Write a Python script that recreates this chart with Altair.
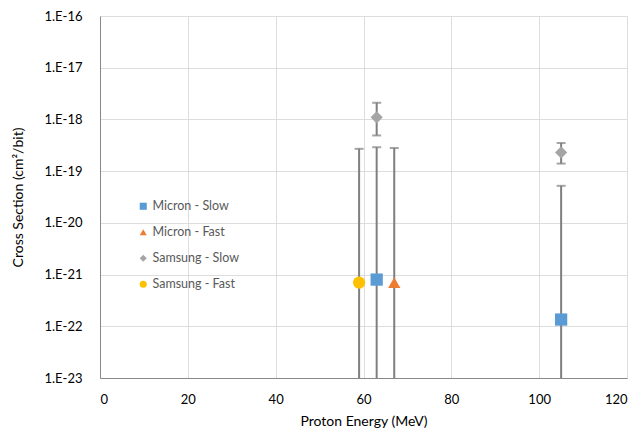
import altair as alt
import pandas as pd

series_names = ["Micron - Slow", "Micron - Fast", "Samsung - Slow", "Samsung - Fast"]
colors = ["#5b9bd5", "#ed7d31", "#a5a5a5", "#ffc000"]
shapes = ["square", "triangle-up", "diamond", "circle"]

pt_series = ["Micron - Slow", "Micron - Slow", "Micron - Fast", "Samsung - Slow", "Samsung - Slow", "Samsung - Fast"]
energy = [63, 105, 67, 63, 105, 59]
cross = [8.0e-22, 1.35e-22, 7.0e-22, 1.1e-18, 2.3e-19, 7.0e-22]
err_hi = [2.9e-19, 5.2e-20, 2.8e-19, 2.1e-18, 3.5e-19, 2.7e-19]
err_lo = [1e-24, 1e-24, 1e-24, 4.9e-19, 1.4e-19, 1e-24]

ytick_vals = [1e-16, 1e-17, 1e-18, 1e-19, 1e-20, 1e-21, 1e-22, 1e-23]
xtick_vals = [0, 20, 40, 60, 80, 100, 120]

df = pd.DataFrame({"series": pt_series, "energy": energy, "cs": cross, "hi": err_hi, "lo": err_lo})
caps = pd.DataFrame({"energy": energy + energy, "cap": err_hi + err_lo})

txt = "#595959"
font = "Lato"

xscale = alt.Scale(domain=[0, 120], nice=False)
yscale = alt.Scale(type="log", domain=[1e-23, 1e-16], nice=False)

xenc = alt.X("energy:Q", scale=xscale, title="Proton Energy (MeV)",
             axis=alt.Axis(values=xtick_vals, grid=True, ticks=False, labelPadding=15,
                           titlePadding=8, titleFontWeight="normal", labelFontSize=13,
                           titleFontSize=14, labelFont=font, titleFont=font))
yaxis = alt.Axis(values=ytick_vals, grid=True, ticks=False, labelPadding=18, titlePadding=18,
                 titleFontWeight="normal", labelFontSize=13, titleFontSize=14,
                 labelFont=font, titleFont=font,
                 labelExpr="'1.E-' + format(-round(log(datum.value)/LN10), 'd')")

rules = alt.Chart(df).mark_rule(color="#7f7f7f", strokeWidth=2, clip=True).encode(
    x=xenc,
    y=alt.Y("lo:Q", scale=yscale, title="Cross Section (cm²/bit)", axis=yaxis),
    y2="hi:Q",
)

capmarks = alt.Chart(caps).mark_tick(color="#7f7f7f", thickness=2, size=9, orient="horizontal", clip=True).encode(
    x=alt.X("energy:Q", scale=xscale),
    y=alt.Y("cap:Q", scale=yscale),
)

points = alt.Chart(df).mark_point(filled=True, opacity=1, clip=True, size=150).encode(
    x=alt.X("energy:Q", scale=xscale),
    y=alt.Y("cs:Q", scale=yscale),
    color=alt.Color("series:N", scale=alt.Scale(domain=series_names, range=colors),
                    legend=alt.Legend(title=None, orient="none", legendX=37, legendY=184,
                                      labelFontSize=12.5, labelColor=txt, labelFont=font,
                                      symbolSize=50, rowPadding=13, labelOffset=3)),
    shape=alt.Shape("series:N", scale=alt.Scale(domain=series_names, range=shapes)),
)

chart = alt.layer(rules, capmarks, points).properties(
    width=527, height=362,
    autosize=alt.AutoSizeParams(type="none"),
    padding={"left": 92, "top": 8, "right": 6, "bottom": 60},
).configure_view(stroke=None).configure_axis(
    gridColor="#d9d9d9", domainColor="#bfbfbf", labelColor=txt, titleColor=txt,
).configure(background="white", font=font)

chart.save("out.html", embed_options={"renderer": "svg", "actions": False})
